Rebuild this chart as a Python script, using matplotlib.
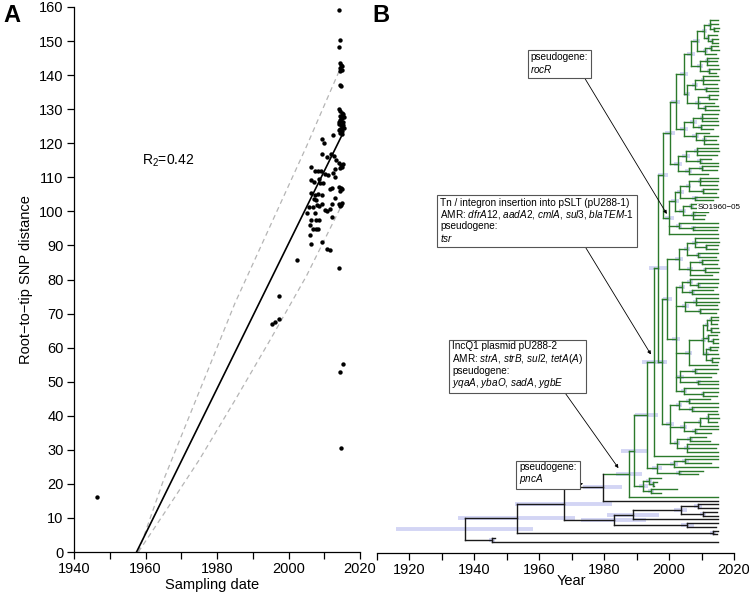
import numpy as np
import matplotlib
matplotlib.use('Agg')
import matplotlib.pyplot as plt
from matplotlib.collections import LineCollection

plt.rcParams['font.family'] = ['Liberation Sans', 'DejaVu Sans']
plt.rcParams['mathtext.fontset'] = 'custom'
plt.rcParams['mathtext.rm'] = 'Liberation Sans'
plt.rcParams['mathtext.it'] = 'Liberation Sans:italic'
plt.rcParams['mathtext.bf'] = 'Liberation Sans:bold'

# ---------------- Panel A data ----------------
sample_year = [1946.5, 1995.3, 1996.2, 1997.4, 1997.4, 2002.3, 2014.6, 2014.4, 2015.2, 2014.1,
               2014.1, 2014.4, 2014.1, 2014.3, 2014.6, 2014.9, 2014.5, 2015.1, 2014.5, 2014.5, 2014.8,
               2014.1, 2014.5, 2014.9, 2015.2, 2014.3, 2014.7, 2015.1, 2014.4, 2014.8, 2015.3,
               2014.2, 2014.6, 2015.0, 2015.4, 2014.3, 2014.7, 2015.1, 2014.5, 2014.9, 2015.3,
               2014.0, 2015.5, 2014.1,
               2012.5, 2009.3, 2010.0, 2009.3, 2012.0, 2012.8, 2013.2,
               2014.1, 2014.6, 2015.0, 2014.4, 2015.2,
               2014.1, 2014.6, 2015.0, 2014.3,
               2014.1, 2014.6, 2015.0, 2014.4,
               2006.2, 2007.3, 2008.3, 2009.0, 2006.4, 2007.1, 2008.6, 2010.2, 2011.1, 2012.5,
               2013.0, 2008.8, 2009.7, 2006.2, 2007.3, 2008.3, 2009.5, 2011.6, 2012.3, 2007.1,
               2007.7, 2005.6, 2006.8, 2008.1, 2008.6, 2009.3, 2012.3, 2005.3, 2007.3, 2010.2,
               2010.9, 2011.6, 2012.1, 2006.4, 2007.6, 2008.6, 2006.0, 2006.9, 2007.6, 2008.3,
               2006.0, 2006.2, 2009.3, 2010.7, 2011.6, 2013.0, 2012.9, 2010.8]
rtt_dist = [16.2, 67.0, 67.5, 68.5, 75.2, 85.7, 30.5, 52.9, 55.2, 83.3,
            159.1, 150.3, 148.2, 143.6, 143.1, 142.6, 142.1, 141.6, 141.2, 137.1, 136.9,
            130.2, 129.6, 129.0, 128.5, 128.1, 127.7, 127.3, 126.9, 126.5, 126.1,
            125.7, 125.3, 124.9, 124.6, 124.2, 123.8, 123.5, 123.1, 122.8, 125.4,
            126.3, 127.8, 124.0,
            122.4, 121.2, 120.0, 116.9, 116.8, 116.4, 115.2,
            114.1, 113.6, 113.1, 112.7, 114.0,
            107.3, 106.8, 106.5, 106.1,
            102.2, 101.9, 102.4, 101.5,
            113.1, 111.9, 111.9, 111.8, 109.2, 108.7, 109.5, 110.9, 110.6, 111.4,
            112.4, 108.2, 108.4, 105.3, 104.8, 105.0, 104.7, 106.5, 106.8, 103.6,
            103.3, 101.4, 101.2, 101.9, 101.7, 102.1, 102.3, 99.4, 99.4, 100.4,
            100.2, 100.6, 98.4, 97.4, 97.4, 97.6, 95.9, 94.7, 94.7, 94.7,
            93.0, 90.5, 91.0, 89.1, 88.8, 110.0, 104.0, 116.0]

fit_x0, fit_x1, fit_slope = 1957.5, 2015.2, 2.13
band_years = [1958.0, 1965.0, 1975.0, 1985.0, 1995.0, 2005.0, 2014.5]
band_upper = [0.0, 21.0, 47.0, 73.0, 96.0, 119.0, 142.0]
band_lower = [0.0, 11.0, 27.0, 44.5, 62.5, 81.0, 101.0]
r2_text = 'R$_2$=0.42'

# ---------------- Panel B data (dated tree) ----------------
# internal node: (date, HPD half-width in years, child, child, ...); tip: sampling year or (label, year)
U4 = (2006.7, 1.2,
      (2008.5, 1.0,
       (2010.8, 0.8,
        (2012.6, 0.6, 2015.2, 2015.0, (2013.8, 0.4, 2015.3, 2015.1)),
        (2012.0, 0.6, 2014.9, (2013.2, 0.5, 2015.0, 2015.2))),
       (2011.2, 0.8, (2012.9, 0.5, 2015.0, 2015.4), 2014.6)),
      (2009.6, 1.0,
       (2011.8, 0.7, 2015.1, 2014.8, 2015.0),
       (2012.4, 0.6, 2015.3, 2014.5)))
U3b = (2005.5, 1.0,
       (2008.0, 0.9, (2010.5, 0.7, 2015.0, 2015.3, 2014.7), (2011.5, 0.6, 2015.1, 2015.0)),
       (2009.0, 0.9, (2012.2, 0.5, 2015.2, 2014.9), 2013.8, (2011.0, 0.7, 2015.0, 2015.3)))
U3 = (2004.5, 1.2, U4, U3b)
U2b = (2004.7, 1.2,
       (2007.5, 1.0, (2010.2, 0.7, 2015.0, 2014.8, 2015.2), (2009.8, 0.8, 2015.1, 2013.6)),
       (2008.2, 1.0, 2012.4, (2010.9, 0.7, 2015.0, 2014.6, 2015.2)))
U2 = (2002.0, 1.5, U3, U2b)
U1b = (2002.8, 1.3,
       (2005.2, 1.1, (2008.5, 0.8, 2015.0, 2015.3, 2014.7), (2009.5, 0.8, 2013.0, 2015.1)),
       (2006.0, 1.1, (2010.0, 0.7, 2015.2, 2014.9), 2012.0))
U1 = (2000.3, 1.5, U2, U1b)
SO = (2000.1, 1.5,
      (2001.8, 1.2,
       (2003.5, 1.0,
        (2006.0, 0.9, (2009.5, 0.7, 2015.0, 2015.2, 2014.8), (2010.5, 0.6, 2015.1, 2014.6)),
        (2008.0, 0.8, 2015.0, 2013.5)),
       (2004.2, 1.0, (2006.8, 0.8, 2010.5, ('SO1960\u221205', 2008.3)), (2007.5, 0.8, 2012.0, 2011.0, 2010.8))),
      (2003.0, 1.0, 2015.1, (2007.5, 0.8, 2015.0, 2014.7)),
      2015.0)
UPPER = (1998.2, 1.5, U1, SO)
M1a = (2003.0, 1.2,
       (2005.5, 1.0, (2008.0, 0.8, 2015.0, 2015.3, (2011.5, 0.5, 2015.1, 2014.8)), (2009.0, 0.8, 2015.2, 2014.6)),
       (2006.5, 1.0, (2010.0, 0.7, 2015.0, 2014.9), (2011.0, 0.6, 2015.3, 2015.0), 2013.2))
DENSE = (2010.5, 0.8,
         (2011.8, 0.6, (2012.8, 0.5, 2015.2, 2015.0, 2014.8), (2013.0, 0.4, 2015.1, 2015.3)),
         (2012.0, 0.6, 2014.9, (2013.4, 0.4, 2015.0, 2015.2)),
         (2011.5, 0.7, (2012.6, 0.5, 2015.1, 2014.7), 2015.0, (2013.1, 0.4, 2015.3, 2015.0)))
M1b = (2002.1, 1.2,
       (2004.0, 1.0, (2006.5, 0.9, 2015.0, (2009.0, 0.7, 2015.2, 2014.7)), (2007.0, 0.9, 2013.5, 2015.1)),
       (2005.0, 1.0, (2008.2, 0.8, 2015.0, 2015.3, 2014.8), (2009.5, 0.7, 2015.1, 2014.5)),
       (2006.0, 1.2, DENSE, 2014.9),
       (2003.5, 1.0, (2008.0, 0.8, 2015.0, 2014.6), 2012.8, (2009.0, 0.8, 2015.2, 2015.0)),
       (2004.5, 0.9, 2015.0, (2010.5, 0.6, 2015.1, 2014.8)))
M1 = (1999.5, 1.5, M1a, M1b)
M2 = (2000.3, 1.3,
      (2003.0, 1.0, (2006.0, 0.9, 2012.5, 2015.0), (2007.0, 0.9, 2015.1, 2014.7)),
      (2004.5, 1.0, (2009.5, 0.7, (2012.0, 0.5, 2015.0, 2015.3, 2014.8), 2015.1), (2008.0, 0.8, 2015.0, 2013.0)),
      (2002.5, 1.0, (2006.5, 0.9, 2011.5, 2012.5), (2005.5, 0.9, 2015.0, 2014.6, 2015.2)))
MIDDLE = (1997.8, 1.5, M1, M2)
G4 = (1996.7, 3.0, UPPER, MIDDLE)
G3 = (1995.2, 3.5, G4, 2015.0)
C2 = (1996.2, 1.5, (2001.5, 1.2, (2005.0, 1.0, 2015.2, 2013.0), 2015.0), (2003.0, 1.0, 2010.5, 2009.0))
G2 = (1993.1, 3.5, G3, C2)
C1 = (1992.1, 1.5, (1993.8, 1.0, 1997.4, (1995.0, 0.8, 1996.2, 1995.3)), (1994.5, 1.0, 2002.3, 1997.4))
G1 = (1989.3, 4.0, G2, C1)
GREEN = (1987.7, 4.0, G1, 2015.0)
N1979 = (1979.5, 6.0, GREEN, 2015.0)
N1989 = (1989.0, 8.0, (2003.6, 2.0, (2009.0, 1.2, 2015.0, 2015.2), (2010.5, 1.0, 2014.8, 2015.1)), 2015.0)
N2005 = (2005.6, 2.0, 2015.0, 2014.6)
N1983 = (1983.0, 10.0, N1989, N2005)
N1967 = (1967.5, 15.0, N1979, N1983)
NPAIR = (2013.5, 0.8, 2015.0, 2014.8)
N1953 = (1953.0, 18.0, N1967, NPAIR)
N1945 = (1945.5, 1.0, 1946.5, 2015.0)
ROOT = (1937.0, 21.0, N1953, N1945)

ann_texts = [
    'pseudogene:\n$\\mathit{rocR}$',
    'Tn / integron insertion into pSLT (pU288-1)\nAMR: $\\mathit{dfrA12}$, $\\mathit{aadA2}$, '
    '$\\mathit{cmlA}$, $\\mathit{sul3}$, $\\mathit{blaTEM}$-$\\mathit{1}$\npseudogene:\n$\\mathit{tsr}$',
    'IncQ1 plasmid pU288-2\nAMR: $\\mathit{strA}$, $\\mathit{strB}$, $\\mathit{sul2}$, $\\mathit{tetA(A)}$\n'
    'pseudogene:\n$\\mathit{yqaA}$, $\\mathit{ybaO}$, $\\mathit{sadA}$, $\\mathit{ygbE}$',
    'pseudogene:\n$\\mathit{pncA}$',
]
ann_nodes = [SO, G3, GREEN, N1979]
ann_years = [1999.3, 1994.4, 1984.4, 1973.5]

# ---------------- figure ----------------
W, H = 749, 594
fig = plt.figure(figsize=(W / 100, H / 100), dpi=100)


def px_rect(l, t, r, b):
    return [l / W, 1 - b / H, (r - l) / W, (b - t) / H]


# ---- Panel A ----
axA = fig.add_axes(px_rect(74, 7, 360, 552))
axA.plot(band_years, band_upper, color='#b5b5b5', lw=0.9, ls=(0, (4, 3)), zorder=1)
axA.plot(band_years, band_lower, color='#b5b5b5', lw=0.9, ls=(0, (4, 3)), zorder=1)
fx = np.array([fit_x0, fit_x1])
axA.plot(fx, fit_slope * (fx - fit_x0), color='black', lw=1.2, zorder=2)
axA.scatter(sample_year, rtt_dist, s=10, c='black', lw=0, zorder=3, clip_on=False)
axA.text(1959.0, 113.6, r2_text, fontsize=10, ha='left', va='baseline')
axA.set_xlim(1940, 2020)
axA.set_ylim(0, 160)
axA.set_xticks(np.arange(1940, 2021, 20))
axA.set_xticks(np.arange(1950, 2020, 20), minor=True)
axA.set_yticks(np.arange(0, 161, 10))
for s in ['top', 'right']:
    axA.spines[s].set_visible(False)
for s in ['left', 'bottom']:
    axA.spines[s].set_linewidth(0.9)
axA.tick_params(which='both', direction='out', length=5, width=0.9, labelsize=10.5, pad=2.5)
fig.text(26 / W, 1 - 279.5 / H, 'Root\u2212to\u2212tip SNP distance', rotation=90,
         ha='center', va='center', fontsize=10.5)
fig.text(212.5 / W, 1 - 585 / H, 'Sampling date', ha='center', va='center', fontsize=10.5)

# ---- Panel B ----
axB = fig.add_axes(px_rect(377, 10, 734, 553))
GREEN_C = '#2b7a2b'
BLACK_C = '#1a1a1a'
HPD_C = '#c8cbf2'

segs, cols, hpd_segs, tip_labels = [], [], [], []
node_y = {}
counter = [0]


def is_tip(n):
    return not isinstance(n, tuple) or isinstance(n[0], str)


def build(n, parent_date, color):
    if n is GREEN:
        color = GREEN_C
    if is_tip(n):
        y = counter[0]
        counter[0] += 1
        d = n[1] if isinstance(n, tuple) else n
        if isinstance(n, tuple):
            tip_labels.append((n[0], d, y))
    else:
        d, h = n[0], n[1]
        ys = [build(c, d, color) for c in n[2:]]
        y = (ys[0] + ys[-1]) / 2.0
        segs.append([(d, ys[0]), (d, ys[-1])])
        cols.append(color)
        if h > 0:
            hpd_segs.append([(d - h, y), (d + h, y)])
        node_y[id(n)] = y
    if parent_date is not None:
        segs.append([(parent_date, y), (d, y)])
        cols.append(color)
    return y


build(ROOT, None, BLACK_C)
N = counter[0]

axB.add_collection(LineCollection(hpd_segs, colors=HPD_C, linewidths=2.8, alpha=0.8, zorder=1))
axB.add_collection(LineCollection(segs, colors=cols, linewidths=1.0, zorder=2, capstyle='projecting'))
for lab, d, y in tip_labels:
    axB.text(d + 0.5, y, lab, fontsize=5.8, ha='left', va='center', zorder=4,
             bbox=dict(fc='white', ec='none', pad=0.5))

sp = (542 - 20) / (N - 1)
axB.set_ylim((N - 1) + (553 - 542) / sp, -(20 - 10) / sp)
axB.set_xlim(1910, 2020)
axB.set_xticks(np.arange(1920, 2021, 20))
axB.set_xticks(np.arange(1910, 2020, 20), minor=True)
axB.set_yticks([])
for s in ['top', 'right', 'left']:
    axB.spines[s].set_visible(False)
axB.spines['bottom'].set_linewidth(0.9)
axB.tick_params(which='both', direction='out', length=5, width=0.9, labelsize=10.5, pad=2.5)
axB.patch.set_alpha(0)
fig.text(571.7 / W, 1 - 581 / H, 'Year', ha='center', va='center', fontsize=10.5)

box_tl = [(530.5, 52.5), (440.0, 197.5), (452.0, 341.0), (519.0, 461.5)]
rel_x = [0.91, 0.74, 0.85, 0.9]
y_off = [1.0, 2.0, 1.5, 1.0]
for txt, nd, yr, (bx, by), rx, yo in zip(ann_texts, ann_nodes, ann_years, box_tl, rel_x, y_off):
    axB.annotate(txt, xy=(yr, node_y[id(nd)] - yo), xycoords='data',
                 xytext=(bx, H - by), textcoords='figure pixels',
                 ha='left', va='top', fontsize=7.2, linespacing=1.05, zorder=5,
                 bbox=dict(boxstyle='square,pad=0.3', fc='white', ec='#555555', lw=0.8),
                 arrowprops=dict(arrowstyle='-|>', color='black', lw=0.6, mutation_scale=5,
                                 shrinkA=0, shrinkB=0, relpos=(rx, 0.0)))

fig.text(3 / W, 1 - 22 / H, 'A', fontsize=17, fontweight='bold', ha='left', va='baseline')
fig.text(372 / W, 1 - 22 / H, 'B', fontsize=17, fontweight='bold', ha='left', va='baseline')

fig.savefig('out.png', dpi=100)
